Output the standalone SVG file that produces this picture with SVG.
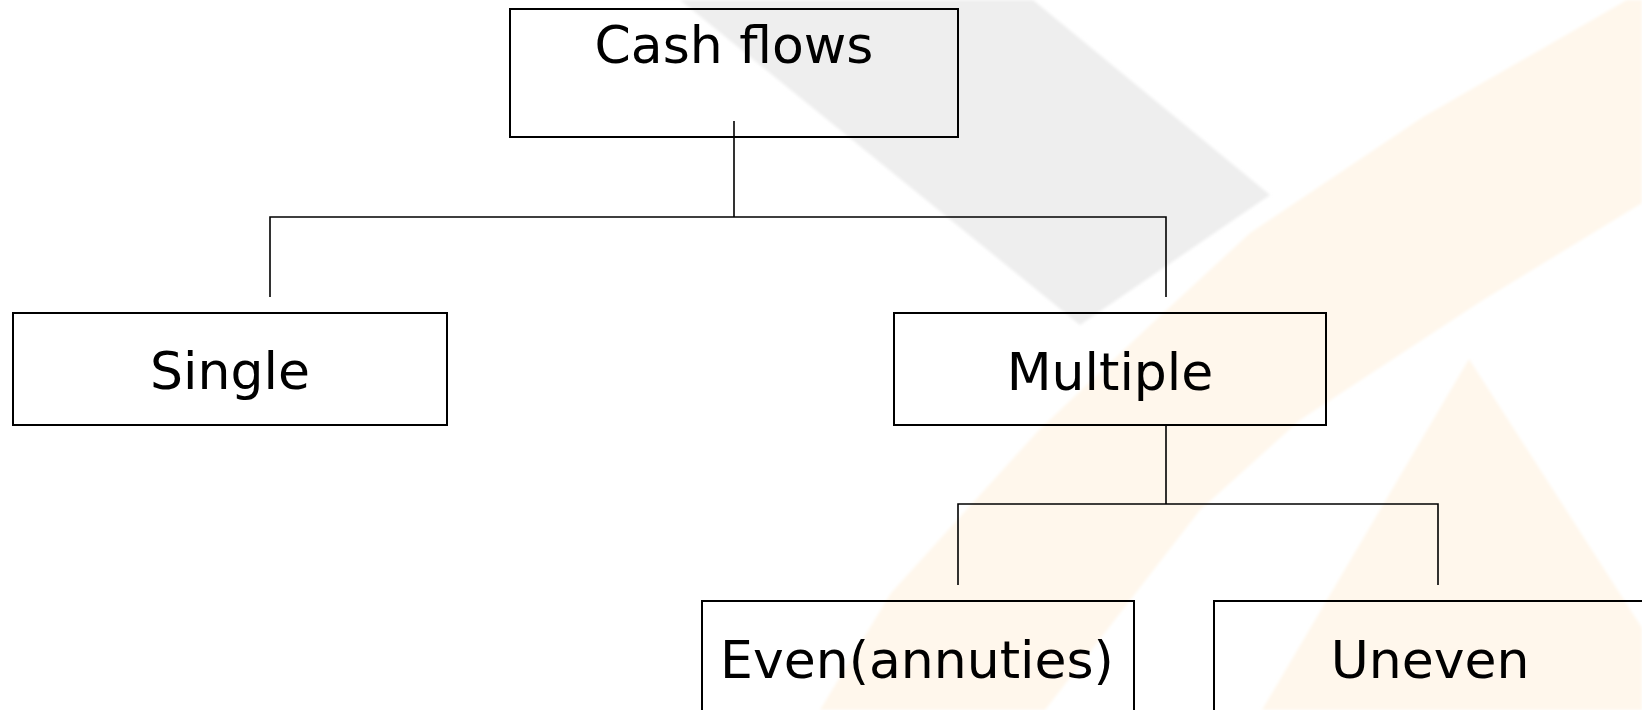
<svg xmlns="http://www.w3.org/2000/svg" width="1642" height="710" viewBox="0 0 1642 710">
  <defs>
    <filter id="soft" x="-5%" y="-5%" width="110%" height="110%">
      <feGaussianBlur stdDeviation="1.5"/>
    </filter>
  </defs>
  <style>
    .box { fill: none; stroke: #000; stroke-width: 2; }
    .lbl { font-family: "DejaVu Sans", Verdana, sans-serif; font-size: 52px; fill: #000; text-anchor: middle; }
    .conn { fill: none; stroke: #000; stroke-width: 1.6; }
    .wm-gray { fill: #eeeeee; }
    .wm-cream { fill: #fff7ec; }
  </style>
  <rect width="1642" height="710" fill="#ffffff"/>
  <g id="watermark" filter="url(#soft)">
    <polygon class="wm-gray" points="680,0 1033,0 1270,195 1080,325"/>
    <polygon class="wm-cream" points="1627,0 1642,0 1642,203 1483,300 1300,420 1200,510 1045,710 820,710 891,593 1039,430 1145,330 1250,233 1423,117"/>
    <polygon class="wm-cream" points="1469,359 1642,628 1642,710 1262,710"/>
  </g>
  <g id="connectors">
    <path class="conn" d="M734,121 V217 M270,297 V217 H1166 V297"/>
    <path class="conn" d="M1166,425 V504 M958,585 V504 H1438 V585"/>
  </g>
  <g id="node-cashflows">
    <rect class="box" x="510" y="9" width="448" height="128"/>
    <text class="lbl" x="734" y="63">Cash flows</text>
  </g>
  <g id="node-single">
    <rect class="box" x="13" y="313" width="434" height="112"/>
    <text class="lbl" x="230" y="389">Single</text>
  </g>
  <g id="node-multiple">
    <rect class="box" x="894" y="313" width="432" height="112"/>
    <text class="lbl" x="1110" y="390">Multiple</text>
  </g>
  <g id="node-even">
    <rect class="box" x="702" y="601" width="432" height="120"/>
    <text class="lbl" x="917" y="678">Even(annuties)</text>
  </g>
  <g id="node-uneven">
    <rect class="box" x="1214" y="601" width="432" height="120"/>
    <text class="lbl" x="1430" y="678">Uneven</text>
  </g>
</svg>
